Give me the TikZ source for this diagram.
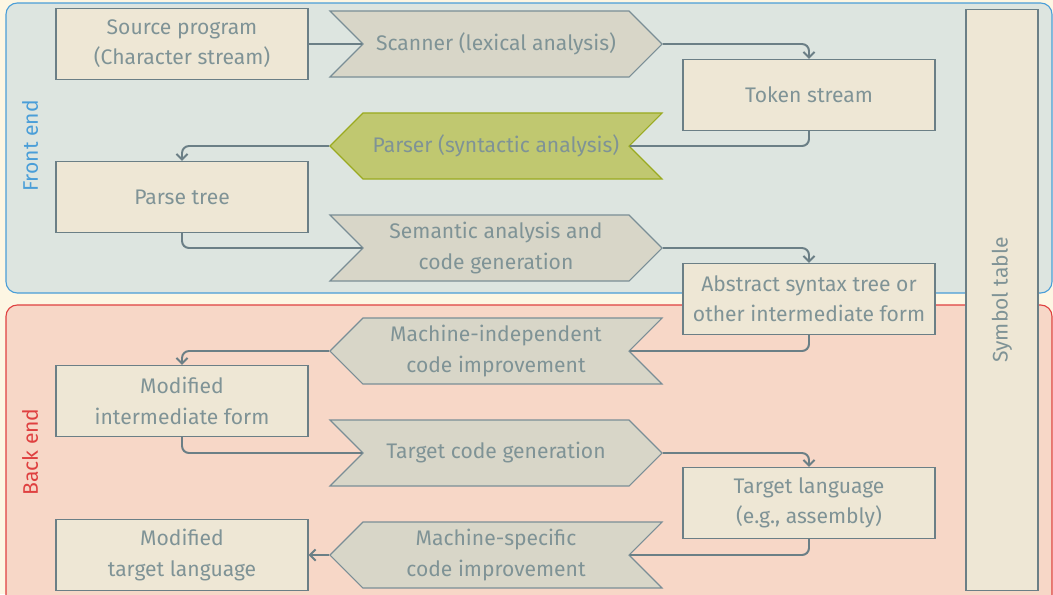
\documentclass[tikz,border=0pt]{standalone}
\usepackage{fontspec}
\setmainfont{Fira Sans}
\usetikzlibrary{shapes.symbols,arrows.meta}

\definecolor{paper}{HTML}{FDF6E3}
\definecolor{frontfill}{HTML}{DDE5E0}
\definecolor{frontline}{HTML}{4A9ED8}
\definecolor{backfill}{HTML}{F7D7C7}
\definecolor{backline}{HTML}{DF4040}
\definecolor{boxfill}{HTML}{EEE7D5}
\definecolor{boxline}{HTML}{6B7F86}
\definecolor{phasefill}{HTML}{D8D6C8}
\definecolor{phaseline}{HTML}{7A8E96}
\definecolor{parsefill}{HTML}{C0C870}
\definecolor{parseline}{HTML}{9AAA20}
\definecolor{ink}{HTML}{7F9396}

\begin{document}
\begin{tikzpicture}[x=0.025cm, y=-0.025cm,
    every node/.style={font=\fontsize{15}{21.5}\selectfont, text=ink, align=center},
    stagebox/.style={draw=boxline, fill=boxfill, line width=0.8pt,
      minimum width=6.3cm, minimum height=1.775cm, inner sep=0pt},
    phase/.style={signal, signal to=east, signal from=west, draw=phaseline,
      fill=phasefill, line width=0.8pt, minimum width=8.3cm,
      minimum height=1.65cm, inner sep=0pt},
    backphase/.style={phase, signal to=west, signal from=east},
    flow/.style={draw=boxline, line width=1.4pt, rounded corners=5pt},
    flowto/.style={flow, -{Straight Barb[length=4pt,width=8pt]}}]
   \useasboundingbox (0,0) rectangle (1053,594);
   % background and the two panels
   \fill[paper] (0,0) rectangle (1053,594);
   \draw[frontline, fill=frontfill, line width=0.8pt, rounded corners=8pt]
      (6,3) rectangle (1052,293);
   \draw[backline, fill=backfill, line width=0.8pt, rounded corners=8pt]
      (6,305) rectangle (1052,610);
   \node[rotate=90, text=frontline] (front) at (30,146) {Front end};
   \node[rotate=90, text=backline] (back) at (30,452) {Back end};
   % symbol table
   \node[stagebox, minimum width=1.8cm, minimum height=14.5cm] (sym) at (1002,300) {};
   \node[rotate=90] (symlabel) at (1002,300) {Symbol table};
   % stages
   \node[stagebox] (src) at (182,44) {Source program\\(Character stream)};
   \node[phase] (scan) at (496,44) {Scanner (lexical analysis)};
   \node[stagebox] (tok) at (809,95) {Token stream};
   \node[backphase, fill=parsefill, draw=parseline] (pars) at (496,146) {Parser (syntactic analysis)};
   \node[stagebox] (tree) at (182,197) {Parse tree};
   \node[phase] (sem) at (496,248) {Semantic analysis and\\code generation};
   \node[stagebox] (ast) at (809,299) {Abstract syntax tree or\\other intermediate form};
   \node[backphase] (mind) at (496,351) {Machine-independent\\code improvement};
   \node[stagebox] (mif) at (182,401) {Modified\\intermediate form};
   \node[phase] (tgen) at (496,453) {Target code generation};
   \node[stagebox] (tl) at (809,503) {Target language\\(e.g., assembly)};
   \node[backphase] (mspec) at (496,555) {Machine-specific\\code improvement};
   \node[stagebox] (mtl) at (182,555) {Modified\\target language};
   % connectors
   \draw[flow] (src) -- (scan.west);
   \draw[flowto] (scan.east) -| (tok.north);
   \draw[flow] (tok.south) |- (pars.east);
   \draw[flowto] (pars.west) -| (tree.north);
   \draw[flow] (tree.south) |- (sem.west);
   \draw[flowto] (sem.east) -| (ast.north);
   \draw[flow] (ast.south) |- (mind.east);
   \draw[flowto] (mind.west) -| (mif.north);
   \draw[flow] (mif.south) |- (tgen.west);
   \draw[flowto] (tgen.east) -| (tl.north);
   \draw[flow] (tl.south) |- (mspec.east);
   \draw[flowto] (mspec.west) -- (mtl.east);
\end{tikzpicture}
\end{document}
